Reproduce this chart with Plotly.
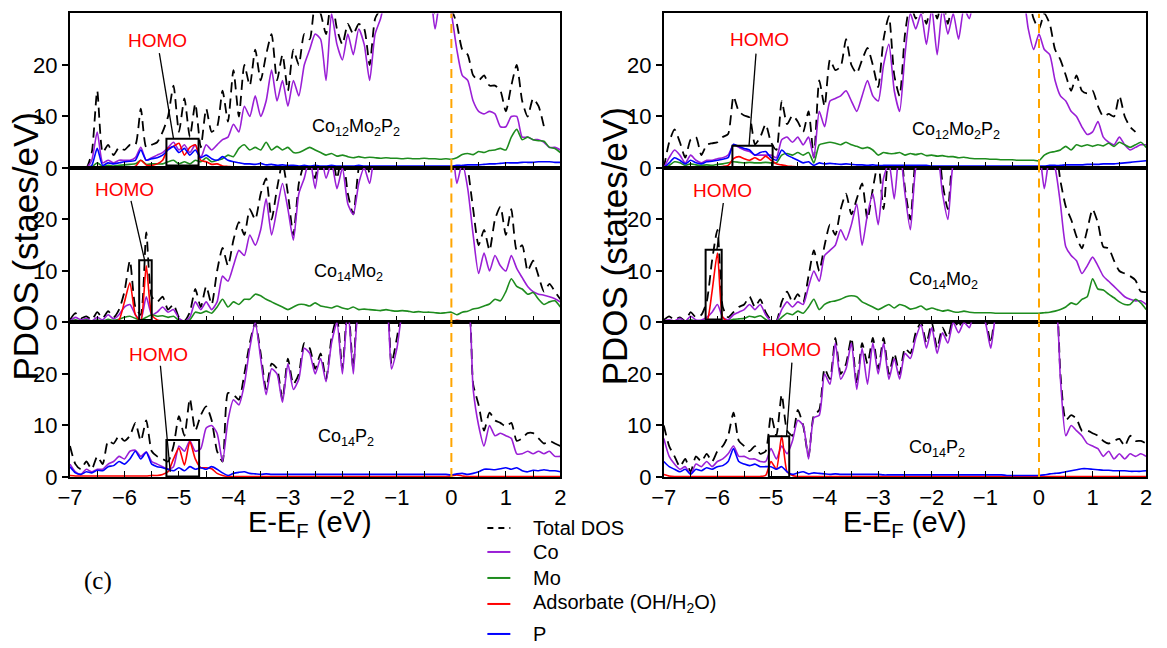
import plotly.graph_objects as go

# Energy grid (eV), step 0.1 from -7 to 2
E = [round(-7 + 0.1 * i, 1) for i in range(91)]

# ---------------- Left column ----------------
# Panel 1: Co12Mo2P2
L1_total = [0, 0, 0, 0, 3, 15, 3, 4.5, 2.5, 4,
            3.5, 4.5, 4.5, 11.5, 4, 4.5, 5, 7, 10, 16,
            7, 13.5, 6, 12.5, 4, 11.5, 7, 8, 15, 9,
            19, 10, 20, 16, 23, 17, 22, 26, 17, 22,
            15, 23, 20, 26, 25, 32, 30, 26, 33, 27,
            24, 28, 26, 28, 27, 20, 29, 31, 35, 35,
            35, 35, 35, 35, 35, 35, 35, 30, 35, 35,
            31, 28, 23, 22, 18, 17, 18, 16, 16, 15,
            11, 16, 20, 13, 10, 13.5, 12, 8, None, None,
            None]
L1_co = [0, 0, 0, 0, 1.5, 7, 1, 1.5, 1, 1.5,
         1.5, 1.5, 2, 4, 1.5, 2, 2.5, 3, 4, 5,
         3.5, 4.5, 3, 4.5, 2, 4.5, 3.5, 4.5, 5.5, 6,
         8.5, 7, 12, 10, 14, 10, 13, 19, 13, 17,
         12, 17, 14, 20, 23, 26, 25, 17, 30, 24,
         21, 26, 22, 27, 24, 17, 26, 29, 33, 34,
         34, 34, 34, 34, 34, 34, 34, 27, 33, 34,
         30, 23, 18, 17, 13, 11, 10.5, 11, 10.5, 8,
         8, 10, 10, 6, 6, 5.5, 5.5, 5, 4, 4,
         3.5]
L1_mo = [0, 0, 0, 0, 0.2, 1, 0.3, 0.5, 0.4, 0.5,
         0.6, 0.7, 0.8, 1.5, 0.7, 0.8, 0.8, 0.8, 1.2, 1.5,
         0.8, 1.2, 0.8, 1.5, 1.2, 2, 1.2, 1.5, 1.8, 2.5,
         2.2, 3.8, 4.5, 3.5, 4, 3.5, 5, 3.5, 4.2, 3.5,
         4, 3, 3, 3.5, 4, 3.5, 3, 2.5, 2.8, 2.3,
         2.5, 2.2, 2.0, 2.2, 2.0, 2.1, 2.0, 1.9, 2.0, 1.9,
         1.9, 1.8, 1.9, 1.8, 1.8, 1.9, 1.8, 1.8, 1.7, 1.8,
         1.7, 2, 2.6, 2.8, 2.6, 3.2, 3.0, 3.4, 3.5, 3.8,
         3.5, 6, 7.5, 5.5, 6, 5.5, 5.3, 5.2, 4, 3.8,
         3]
L1_ads = [0, 0, 0, 0, 0, 0.3, 0.2, 0.2, 0.2, 0.2,
          0.2, 0.2, 0.3, 1.5, 0.6, 0.5, 0.8, 1.5, 3.8, 4.2,
          4.8, 2.5, 4.0, 4.5, 1.5, 1.2, 0.7, 0.8, 0.4, 0.3,
          0.2, 0.2, 0.2, 0.2, 0.2, 0.2, 0.2, 0.2, 0.2, 0.2,
          0.2, 0.2, 0.2, 0.2, 0.2, 0.2, 0.2, 0.2, 0.2, 0.2,
          0.15, 0.15, 0.15, 0.15, 0.15, 0.15, 0.15, 0.15, 0.15, 0.15,
          0.15, 0.15, 0.15, 0.15, 0.15, 0.15, 0.15, 0.15, 0.15, 0.15,
          0.2, 0.3, 0.3, 0.25, 0.2, 0.2, 0.2, 0.2, 0.2, 0.2,
          0.2, 0.2, 0.2, 0.2, 0.2, 0.2, 0.2, 0.2, 0.2, 0.2,
          0.2]
L1_p = [0, 0, 0, 0, 0.5, 3.8, 0.5, 1, 0.8, 1,
        1.2, 1.3, 1.5, 3.5, 1.5, 1.8, 2, 2.5, 3.5, 4.2,
        3.0, 3.8, 2.5, 3.5, 2, 2.5, 1.8, 1.5, 2.2, 1.5,
        1.2, 1.0, 0.8, 0.8, 0.7, 0.9, 0.6, 0.7, 0.5, 0.6,
        0.5, 0.5, 0.4, 0.5, 0.4, 0.5, 0.4, 0.4, 0.5, 0.4,
        0.4, 0.4, 0.4, 0.5, 0.4, 0.4, 0.4, 0.4, 0.4, 0.4,
        0.4, 0.4, 0.4, 0.4, 0.4, 0.4, 0.4, 0.4, 0.4, 0.4,
        0.4, 0.5, 0.5, 0.6, 0.6, 0.6, 0.7, 0.8, 0.8, 0.9,
        1.0, 1.0, 1.0, 1.1, 1.1, 1.1, 1.2, 1.2, 1.2, 1.1,
        1.1]

# Panel 2: Co14Mo2
L2_total = [0.5, 1.8, 0.8, 1.2, 0.5, 2, 0.8, 2.2, 1, 2.5,
            6, 12, 3, 1.5, 17.5, 5, 4, 5, 2.5, 3.5,
            1, 0.3, 2, 6.5, 3, 7, 3.5, 10, 14.5, 11,
            16, 19.5, 17, 22, 20, 25, 28, 20, 26, 31,
            25, 17, 27, 31, 33, 28, 35, 30, 33, 28,
            33, 25, 21, 30, 33, 29, 35, 35, 35, 35,
            35, 35, 35, 35, 35, 35, 35, 35, 35, 35,
            35, 33, 35, 30, 22, 15, 18, 14, 20, 22.5,
            17, 22, 14, 15, 10, 12, 9, 6, 7.5, 6,
            4.5]
L2_co = [0.3, 1, 0.5, 0.8, 0.3, 1, 0.5, 1.5, 0.7, 1.5,
         3, 3.5, 1.5, 0.5, 5, 1.5, 2, 3, 2, 2.5,
         0.8, 0.2, 1, 4, 2.5, 4, 2.5, 4, 9, 8,
         11, 14, 13, 17, 15, 18, 24, 17, 22, 27,
         22, 16, 25, 28, 32, 26, 33, 28, 31, 26,
         30, 23, 21, 27, 30, 27, 33, 34, 34, 34,
         34, 34, 34, 34, 34, 34, 34, 34, 34, 34,
         34, 27, 31, 26, 17, 9.5, 13.5, 10, 13, 11,
         10, 13, 10.5, 8.7, 7, 6, 5.5, 5.3, 5, 4.6,
         4]
L2_mo = [0.2, 0.5, 0.3, 0.5, 0.2, 0.5, 0.3, 0.6, 0.4, 0.6,
         1, 1.2, 0.8, 0.5, 1, 1.5, 1.2, 1.3, 1, 1.2,
         0.4, 0.1, 0.5, 2, 1.8, 2.2, 1.8, 3, 4.5, 3,
         4, 3.5, 4.5, 4.5, 5.5, 5.2, 4.5, 4, 3.5, 3,
         2.5, 3, 3.5, 3.5, 3.2, 3.8, 3.2, 3, 2.8, 3.2,
         2.8, 2.6, 3, 2.5, 2.6, 2.5, 2.4, 2.3, 2.5, 2.3,
         2.2, 2.3, 2.2, 2.0, 2.1, 2.0, 2.0, 1.9, 1.8, 1.9,
         2.0, 1.5, 2.0, 2.2, 2.6, 2.8, 3.2, 3.6, 4.5, 4.2,
         6, 8.5, 7, 6.5, 5.5, 5.8, 4.5, 3.5, 4, 4.2,
         3]
L2_ads = [0.1, 0.1, 0.1, 0.1, 0.1, 0.1, 0.1, 0.1, 0.1, 0.5,
          4, 7.7, 1.5, 0.3, 11, 1.5, 0.5, 0.3, 0.2, 0.2,
          0.1, 0.1, 0.1, 0.1, 0.1, 0.1, 0.1, 0.1, 0.1, 0.1,
          0.1, 0.1, 0.1, 0.1, 0.1, 0.1, 0.1, 0.1, 0.1, 0.1,
          0.1, 0.1, 0.1, 0.1, 0.1, 0.1, 0.1, 0.1, 0.1, 0.1,
          0.1, 0.1, 0.1, 0.1, 0.1, 0.1, 0.1, 0.1, 0.1, 0.1,
          0.1, 0.1, 0.1, 0.1, 0.1, 0.1, 0.1, 0.1, 0.1, 0.1,
          0.2, 0.4, 0.3, 0.2, 0.1, 0.1, 0.1, 0.1, 0.1, 0.1,
          0.1, 0.1, 0.1, 0.1, 0.1, 0.1, 0.1, 0.1, 0.1, 0.1,
          0.1]

# Panel 3: Co14P2
L3_total = [6, 2.5, 1.5, 3, 1.5, 4, 2.5, 7, 6.5, 8,
            7, 8, 10.5, 7, 11, 5, 4, 3.5, 3, 6,
            11.8, 8, 15.2, 9, 12, 13.7, 11, 5, 3, 16.3,
            16, 15, 20, 26, 30, 24, 17, 22, 21, 15,
            23, 18, 20, 26, 25, 21, 24, 19, 27, 31,
            21, 34, 21, 33, 33, 35, 33, 35, 35, 22,
            27, 33, 35, 35, 35, 35, 35, 35, 35, 35,
            35, 35, 35, 35, 18, 14, 9, 12.5, 11, 10.5,
            9.8, 10.5, 7, 7.5, 8.5, 8.5, 7.5, 6.5, 7, 6.5,
            6]
L3_co = [2.5, 1, 0.5, 1.5, 1, 1.5, 1.5, 2.5, 3, 4,
         3.5, 5, 5.2, 4, 4.9, 3, 2.5, 2, 1.5, 2,
         6, 5, 7, 5, 5.5, 9.5, 10, 8.5, 3, 11,
         15, 14, 18, 25, 30, 23, 16, 21, 20, 14.5,
         22, 17, 19, 25, 24, 20, 23, 18.5, 26, 30,
         20, 33, 20, 32, 32, 34, 32, 34, 34, 21,
         25, 32, 34, 34, 34, 34, 34, 34, 34, 34,
         34, 34, 34, 34, 17, 10, 6, 10, 8, 8.5,
         8, 7.5, 4.5, 4.5, 5, 4.5, 5, 4.5, 5, 4,
         4]
L3_ads = [0.3, 0.2, 0.2, 0.2, 0.2, 0.2, 0.2, 0.2, 0.2, 0.2,
          0.2, 0.2, 0.2, 0.2, 0.2, 0.3, 0.3, 0.5, 1, 3.5,
          5.6, 2.3, 6.9, 3.5, 1.8, 1.8, 1.6, 0.7, 0.3, 0.1,
          0.1, 0.1, 0.1, 0.1, 0.1, 0.1, 0.1, 0.1, 0.1, 0.1,
          0.1, 0.1, 0.1, 0.1, 0.1, 0.1, 0.1, 0.1, 0.1, 0.1,
          0.1, 0.1, 0.1, 0.1, 0.1, 0.1, 0.1, 0.1, 0.1, 0.1,
          0.1, 0.1, 0.1, 0.1, 0.1, 0.1, 0.1, 0.1, 0.1, 0.1,
          0.2, 0.4, 0.2, 0.1, 0.1, 0.1, 0.1, 0.1, 0.1, 0.1,
          0.1, 0.1, 0.1, 0.1, 0.1, 0.1, 0.1, 0.1, 0.1, 0.1,
          0.1]
L3_p = [2, 0.8, 0.5, 1, 0.8, 1.3, 1.2, 2, 2.2, 3,
        2.5, 3.5, 5, 3.5, 4.8, 2.5, 2, 1.8, 1.5, 1.2,
        1.8, 1.2, 2, 1.5, 1.8, 1.5, 2, 1.5, 0.8, 0.3,
        0.7, 0.9, 1, 0.7, 0.6, 0.5, 0.6, 0.5, 0.5, 0.5,
        0.5, 0.5, 0.5, 0.5, 0.5, 0.5, 0.5, 0.5, 0.5, 0.5,
        0.5, 0.5, 0.5, 0.5, 0.5, 0.5, 0.5, 0.5, 0.5, 0.5,
        0.5, 0.5, 0.5, 0.5, 0.5, 0.5, 0.5, 0.5, 0.5, 0.5,
        0.4, 0.6, 0.7, 0.5, 0.7, 1.0, 1.5, 1.5, 1.4, 1.6,
        1.8, 1.5, 1.8, 1.2, 1.0, 1.3, 1.2, 1.4, 1.2, 1.2,
        1.0]

# ---------------- Right column ----------------
R1_total = [0, 5, 7.5, 5, 2, 5.5, 6, 2.5, 4.5, 4.8,
            5, 6, 6.6, 13.9, 11, 10.2, 9.8, 4.6, 6, 8.5,
            5, 3.5, 13, 8.5, 10.2, 9, 7, 11, 2, 17,
            12, 21, 19, 19.7, 25, 20, 18.4, 21, 23.3, 20,
            15.7, 25, 29.5, 18, 14, 26, 32, 29, 31, 28,
            33, 29, 33, 28, 33, 30, 35, 35, 35, 35,
            35, 35, 35, 35, 35, 35, 35, 35, 33, 29,
            27, 30, 28, 23, 21, 18, 15, 18, 15, 14.5,
            15, 12, 10, 10.5, 10, 14, 10, 8, 7, None,
            None]
R1_co = [0, 2, 3.5, 2.5, 1, 2.5, 1.5, 1, 1.5, 1.5,
         1.8, 2, 2.5, 4.5, 4, 3.5, 3.2, 2.5, 2.5, 2.5,
         2.5, 2, 5.5, 6, 5, 6, 4.5, 6, 2, 11,
         8, 13, 13.5, 14, 15, 13, 11, 14, 17, 14,
         13, 20, 24, 15, 11, 22, 30, 27, 30, 24,
         31, 22, 31, 26, 30, 25, 31, 29, 33, 33,
         33, 33, 33, 33, 33, 33, 33, 33, 27, 23,
         26, 23, 22, 17, 14, 13, 11, 10, 8, 6.5,
         7, 9, 6, 5, 4.5, 6, 4.5, 3.5, 4, 4.5,
         4.5]
R1_mo = [0, 0.5, 1.2, 1, 0.5, 0.8, 0.6, 0.5, 0.6, 0.5,
         0.7, 0.8, 1, 1.2, 1.1, 1, 1.1, 1, 1, 1.1,
         1, 1, 2.5, 2.8, 2.5, 3, 2.5, 3, 1, 4.5,
         4.8, 5, 4.8, 4.5, 5, 4.5, 4.2, 3.8, 4, 3.5,
         2.5, 3, 2.8, 2.8, 3, 2.5, 2.8, 2.6, 2.8, 2.4,
         2.5, 2.3, 2.4, 2.2, 2.2, 2.0, 2.1, 1.9, 1.8, 1.8,
         1.8, 1.7, 1.7, 1.6, 1.6, 1.6, 1.5, 1.5, 1.5, 1.5,
         1.4, 2.5, 3, 3.2, 3.5, 4.2, 3.5, 4.5, 4.2, 4.5,
         4.2, 4.5, 4.3, 4.8, 4.2, 5, 4.5, 4, 4.5, 5,
         4]
R1_ads = [0, 0.2, 0.2, 0.2, 0.2, 0.2, 0.2, 0.2, 0.2, 0.2,
          0.2, 0.3, 0.5, 1.8, 2.2, 1.8, 1.5, 2.0, 1.5, 2.3,
          1.5, 0.8, 0.6, 0.4, 0.3, 0.2, 0.2, 0.2, 0.2, 0.2,
          0.2, 0.2, 0.2, 0.2, 0.2, 0.2, 0.2, 0.2, 0.2, 0.2,
          0.2, 0.2, 0.2, 0.2, 0.2, 0.2, 0.2, 0.2, 0.2, 0.2,
          0.2, 0.2, 0.2, 0.2, 0.2, 0.2, 0.2, 0.2, 0.2, 0.2,
          0.2, 0.2, 0.2, 0.2, 0.2, 0.2, 0.2, 0.2, 0.2, 0.2,
          0.2, 0.2, 0.2, 0.2, 0.2, 0.2, 0.2, 0.2, 0.2, 0.2,
          0.2, 0.2, 0.2, 0.2, 0.2, 0.2, 0.2, 0.2, 0.2, 0.2,
          0.2]
R1_p = [0, 1, 2, 1.5, 0.8, 1.5, 1, 0.8, 1.2, 1.3,
        1.5, 1.7, 2, 4.6, 4.2, 3.8, 3.5, 2.5, 3, 3.2,
        2, 1.5, 3.5, 2.5, 2, 1.5, 1.0, 1.2, 0.5, 1.0,
        0.8, 0.9, 0.8, 0.7, 0.8, 0.7, 0.6, 0.6, 0.5, 0.6,
        0.5, 0.5, 0.5, 0.5, 0.5, 0.5, 0.5, 0.5, 0.5, 0.5,
        0.4, 0.4, 0.4, 0.4, 0.4, 0.4, 0.4, 0.4, 0.4, 0.4,
        0.4, 0.4, 0.4, 0.4, 0.4, 0.4, 0.4, 0.4, 0.4, 0.4,
        0.4, 0.4, 0.5, 0.5, 0.5, 0.6, 0.6, 0.6, 0.6, 0.7,
        0.7, 0.7, 0.8, 0.8, 0.8, 0.9, 1.0, 1.1, 1.2, 1.3,
        1.4]

R2_total = [0.5, 1.2, 0.5, 1, 0.3, 2, 1, 1.5, 4, 12,
            18, 3, 1, 2, 3, 3.5, 5, 3, 4.5, 2,
            0.5, 0.3, 4, 6, 4, 5.5, 4, 9, 14, 10,
            15, 19, 17, 22, 25, 21, 24, 27, 20, 26,
            31, 22, 33, 30, 35, 26, 20, 32, 35, 35,
            35, 35, 27, 22, 33, 35, 35, 35, 35, 35,
            35, 35, 35, 35, 35, 35, 35, 35, 35, 35,
            35, 33, 35, 34, 27.5, 22.5, 20, 16.7, 14.4, 18,
            22, 19.3, 14.7, 14.4, 12, 10, 9.5, 9, 8.2, 6,
            5.9]
R2_co = [0.3, 0.5, 0.3, 0.8, 0.2, 1.2, 0.5, 0.5, 1, 2,
         3.5, 1, 0.5, 1.5, 2, 2.5, 3.5, 2.5, 3.5, 1.5,
         0.3, 0.2, 2.5, 4, 3, 4, 3.5, 7, 10, 8,
         13, 14, 15, 18, 16, 19, 23, 15, 21, 25,
         19, 28, 31, 24, 34, 25, 18, 30, 33, 33,
         31, 33, 25, 20, 31, 33, 34, 34, 34, 34,
         34, 34, 34, 34, 34, 34, 34, 34, 34, 34,
         33, 26, 32, 30, 23, 14.7, 13, 12, 9.5, 11,
         12.7, 11, 9, 8, 7, 6, 5, 4.5, 4.2, 4.2,
         3.5]
R2_mo = [0.2, 0.3, 0.2, 0.4, 0.2, 0.5, 0.3, 0.3, 0.4, 0.5,
         0.5, 0.4, 0.3, 0.6, 0.7, 0.8, 1.2, 1, 1.3, 0.6,
         0.1, 0.1, 1, 1.8, 1.5, 2.2, 1.8, 3, 4.5, 2.5,
         3.5, 4, 4.2, 4.5, 5, 5.2, 5, 4, 3.5, 3,
         2.5, 3, 3.5, 2.8, 3.5, 3.2, 2.6, 2.8, 3.2, 2.5,
         2.8, 2.5, 2.2, 2.4, 2.1, 2.0, 2.2, 2.0, 1.9, 1.9,
         1.9, 1.9, 1.8, 1.8, 1.8, 1.8, 1.8, 1.8, 1.8, 1.8,
         1.8, 1.9, 2.0, 2.2, 2.5, 3, 3.8, 3.5, 4.5, 5,
         8.5, 6.5, 6.3, 5.5, 4.8, 4.0, 3.5, 3.5, 4.5, 3.8,
         2.5]
R2_ads = [0, 0, 0, 0, 0, 0, 0, 0, 0.1, 6,
          13.5, 1, 0.2, 0.1, 0.1, 0.1, 0.1, 0.1, 0.1, 0.1,
          0.1, 0.1, 0.1, 0.1, 0.1, 0.1, 0.1, 0.1, 0.1, 0.1,
          0.1, 0.1, 0.1, 0.1, 0.1, 0.1, 0.1, 0.1, 0.1, 0.1,
          0.1, 0.1, 0.1, 0.1, 0.1, 0.1, 0.1, 0.1, 0.1, 0.1,
          0.1, 0.1, 0.1, 0.1, 0.1, 0.1, 0.1, 0.1, 0.1, 0.1,
          0.1, 0.1, 0.1, 0.1, 0.1, 0.1, 0.1, 0.1, 0.1, 0.1,
          0.1, 0.3, 0.3, 0.3, 0.1, 0.1, 0.1, 0.1, 0.1, 0.1,
          0.1, 0.1, 0.1, 0.1, 0.1, 0.1, 0.1, 0.1, 0.1, 0.1,
          0.1]

R3_total = [10, 6, 4, 2, 3.5, 1, 4, 3, 4.5, 3,
            5, 6, 8, 12.5, 7, 6, 5, 6, 4.5, 5,
            12, 8, 16, 9, 8, 13, 10, 4, 12, 13,
            21, 19, 27, 20, 22, 27, 18, 26, 22, 27,
            21, 27, 20, 24, 20, 25, 24, 28, 30, 26,
            30, 25, 29, 27, 31, 29, 31, 30, 33, 33,
            31, 26, 33, 35, 35, 35, 35, 35, 35, 35,
            35, 35, 35, 35, 20, 11, 12, 11.3, 9, 9,
            8.5, 8, 7, 6.5, 7, 7.4, 6, 8, 7, 7,
            6.5]
R3_co = [7.5, 4, 2.5, 1.5, 2, 0.5, 2.5, 2, 3, 2,
         3, 3.5, 4.5, 6, 4, 4, 3.5, 3.5, 3, 3,
         5.5, 3.5, 6, 4.5, 7, 11, 10, 3.5, 11.5, 12,
         20, 18, 26, 19, 21, 26, 17, 25, 18, 26,
         20, 26, 19, 23, 19, 24, 23, 27, 29.5, 25,
         29, 24, 28, 26, 30, 28, 30, 29, 32, 32,
         30, 25, 32, 34, 34, 34, 34, 34, 34, 34,
         34, 34, 34, 34, 19, 8, 10, 9, 8, 6.5,
         6, 5.5, 4, 5, 3.5, 4.5, 3.5, 4.5, 4, 4.5,
         4]
R3_ads = [0.5, 0.2, 0.1, 0.1, 0.1, 0.1, 0.1, 0.1, 0.1, 0.1,
          0.1, 0.1, 0.1, 0.1, 0.1, 0.1, 0.1, 0.1, 0.1, 0.3,
          3, 1.5, 8, 1, 0.3, 0.1, 0.1, 0.1, 0.1, 0.1,
          0.1, 0.1, 0.1, 0.1, 0.1, 0.1, 0.1, 0.1, 0.1, 0.1,
          0.1, 0.1, 0.1, 0.1, 0.1, 0.1, 0.1, 0.1, 0.1, 0.1,
          0.1, 0.1, 0.1, 0.1, 0.1, 0.1, 0.1, 0.1, 0.1, 0.1,
          0.1, 0.1, 0.1, 0.1, 0.1, 0.1, 0.1, 0.1, 0.1, 0.1,
          0.1, 0.1, 0.1, 0.1, 0.1, 0.1, 0.1, 0.1, 0.1, 0.1,
          0.1, 0.1, 0.1, 0.1, 0.1, 0.1, 0.1, 0.1, 0.1, 0.1,
          0.1]
R3_p = [3, 2, 1.5, 1.0, 1.5, 0.5, 1.5, 1.2, 1.8, 1.5,
        2, 2.2, 3, 5.5, 3, 2.5, 2.2, 2.5, 2, 2,
        2, 1.5, 2, 1, 0.5, 0.8, 1.0, 0.6, 0.8, 0.7,
        0.6, 0.5, 0.6, 0.5, 0.5, 0.5, 0.5, 0.5, 0.5, 0.5,
        0.5, 0.4, 0.4, 0.4, 0.4, 0.4, 0.4, 0.4, 0.4, 0.4,
        0.4, 0.4, 0.4, 0.4, 0.4, 0.4, 0.4, 0.4, 0.4, 0.4,
        0.4, 0.4, 0.4, 0.4, 0.3, 0.3, 0.3, 0.3, 0.3, 0.3,
        0.3, 0.4, 0.6, 0.7, 0.8, 1.0, 1.2, 1.4, 1.6, 1.6,
        1.5, 1.4, 1.3, 1.3, 1.2, 1.2, 1.2, 1.1, 1.1, 1.1,
        1.2]

# Labels / annotations
SERIES_NAMES = ["Total DOS", "Co", "Mo", "Adsorbate (OH/H<sub>2</sub>O)", "P"]
PANEL_LABELS = ["Co<sub>12</sub>Mo<sub>2</sub>P<sub>2</sub>", "Co<sub>14</sub>Mo<sub>2</sub>",
                "Co<sub>14</sub>P<sub>2</sub>"]
X_TICKS = [-7, -6, -5, -4, -3, -2, -1, 0, 1, 2]
Y_TICKS = [0, 10, 20]

panels = {
    1: {"Total DOS": L1_total, "Co": L1_co, "Mo": L1_mo, "Ads": L1_ads, "P": L1_p},
    2: {"Total DOS": L2_total, "Co": L2_co, "Mo": L2_mo, "Ads": L2_ads},
    3: {"Total DOS": L3_total, "Co": L3_co, "Ads": L3_ads, "P": L3_p},
    4: {"Total DOS": R1_total, "Co": R1_co, "Mo": R1_mo, "Ads": R1_ads, "P": R1_p},
    5: {"Total DOS": R2_total, "Co": R2_co, "Mo": R2_mo, "Ads": R2_ads},
    6: {"Total DOS": R3_total, "Co": R3_co, "Ads": R3_ads, "P": R3_p},
}
for k, d in panels.items():
    for n, v in d.items():
        assert len(v) == len(E), (k, n, len(v))

label_pos = {1: (-1.75, 7.8), 2: (-1.89, 9.7), 3: (-1.94, 7.6),
             4: (-1.55, 7.2), 5: (-1.79, 8.2), 6: (-1.9, 5.5)}
homo_text = {1: (-5.40, 24.8), 2: (-6.00, 25.9), 3: (-5.38, 23.8),
             4: (-5.21, 25.0), 5: (-5.90, 25.6), 6: (-4.61, 24.7)}
homo_line = {1: (-5.36, 22.3, -5.10, 5.7), 2: (-5.88, 23.6, -5.63, 12.1),
             3: (-5.34, 21.6, -5.16, 1.0), 4: (-5.28, 22.2, -5.41, 4.3),
             5: (-5.89, 23.2, -6.01, 14.1), 6: (-4.61, 22.2, -4.71, 7.9)}
homo_box = {1: (-5.23, 0.5, -4.64, 5.7), 2: (-5.73, 0.5, -5.50, 12.1),
            3: (-5.23, 0.1, -4.63, 7.2), 4: (-5.72, 0.2, -4.97, 4.3),
            5: (-6.22, 0.6, -5.92, 14.1), 6: (-5.04, 0.0, -4.66, 7.9)}

W, H = 1167, 648
FONT = "Liberation Sans"
colors = {"Total DOS": "black", "Co": "#9A1FD6", "Mo": "#1E8C1E", "Ads": "#FF0000", "P": "#0000FF"}
legend_names = {"Total DOS": SERIES_NAMES[0], "Co": SERIES_NAMES[1], "Mo": SERIES_NAMES[2],
                "Ads": SERIES_NAMES[3], "P": SERIES_NAMES[4]}
TOTAL_DASH = "10px,6px"

# the photographed page comes out slightly shrunk; map target pixels to paper coords
SX, OX, SY = 0.984, 12.5, 0.98


def PX(x):
    return ((x - OX) / SX) / W


def PY(y):
    return 1 - (y / SY) / H


col_px = {0: (69.5, 560), 1: (663.5, 1146)}
row_px = [(13.5, 168), (168, 322.5), (322.5, 477)]

fig = go.Figure()
layout = {}
for k in range(1, 7):
    col = 0 if k <= 3 else 1
    row = (k - 1) % 3
    x0, x1 = col_px[col]
    y0, y1 = row_px[row]
    xs = "" if k == 1 else str(k)
    layout["xaxis" + xs] = dict(
        domain=[PX(x0), PX(x1)], range=[-7, 2], anchor="y" + xs,
        showline=True, mirror=True, linewidth=2, linecolor="black",
        ticks="inside", ticklen=6, tickwidth=1.2, tickcolor="black",
        tickvals=X_TICKS, showticklabels=(row == 2), showgrid=False, zeroline=False,
        minor=dict(tickvals=[v + 0.5 for v in X_TICKS[:-1]], ticks="inside", ticklen=6,
                   tickwidth=1.2, tickcolor="black", showgrid=False),
        tickfont=dict(family=FONT, size=22, color="black"))
    layout["yaxis" + xs] = dict(
        domain=[PY(y1), PY(y0)], range=[0, 30], anchor="x" + xs,
        showline=True, mirror=True, linewidth=2, linecolor="black",
        ticks="outside", ticklen=6, tickwidth=1.5, tickcolor="black",
        tickvals=Y_TICKS, showgrid=False, zeroline=False,
        tickfont=dict(family=FONT, size=22, color="black"))

    for name in ["Total DOS", "Co", "Mo", "Ads", "P"]:
        if name not in panels[k]:
            continue
        is_total = name == "Total DOS"
        fig.add_trace(go.Scatter(
            x=E, y=panels[k][name], mode="lines", xaxis="x" + xs, yaxis="y" + xs,
            name=legend_names[name], showlegend=False,
            line=dict(color=colors[name], width=1.8 if is_total else 1.6,
                      dash=TOTAL_DASH if is_total else "solid", shape="spline", smoothing=0.6),
            connectgaps=False))

shapes = []
annotations = []
for k in range(1, 7):
    xs = "" if k == 1 else str(k)
    xr, yr = "x" + xs, "y" + xs
    shapes.append(dict(type="line", xref=xr, yref=yr, x0=0, x1=0, y0=0, y1=30,
                       line=dict(color="#FFA500", width=2, dash="9px,6px")))
    bx0, by0, bx1, by1 = homo_box[k]
    shapes.append(dict(type="rect", xref=xr, yref=yr, x0=bx0, x1=bx1, y0=by0, y1=by1,
                       line=dict(color="black", width=2)))
    lx0, ly0, lx1, ly1 = homo_line[k]
    shapes.append(dict(type="line", xref=xr, yref=yr, x0=lx0, y0=ly0, x1=lx1, y1=ly1,
                       line=dict(color="black", width=1.3)))
    tx, ty = homo_text[k]
    annotations.append(dict(x=tx, y=ty, xref=xr, yref=yr, text="HOMO", showarrow=False,
                            xanchor="center", yanchor="middle",
                            font=dict(family=FONT, size=19, color="red")))
    px_, py_ = label_pos[k]
    annotations.append(dict(x=px_, y=py_, xref=xr, yref=yr, text=PANEL_LABELS[(k - 1) % 3],
                            showarrow=False, xanchor="center", yanchor="middle",
                            font=dict(family=FONT, size=18, color="black")))


def paper_text(x, y, text, size, angle=0, family=FONT, xanchor="center"):
    annotations.append(dict(x=PX(x), y=PY(y), xref="paper", yref="paper", text=text,
                            textangle=angle, showarrow=False, xanchor=xanchor, yanchor="middle",
                            font=dict(family=family, size=size, color="black")))


# axis titles
paper_text(25, 246, "PDOS (staes/eV)", 35, -90)
paper_text(615, 246, "PDOS (states/eV)", 35, -90)
paper_text(310, 524, "E-E<sub>F</sub> (eV)", 29)
paper_text(905, 524, "E-E<sub>F</sub> (eV)", 29)
paper_text(98, 581, "(c)", 25, family="Liberation Serif")

# legend (drawn manually to match the reference placement)
legend_rows = [("Total DOS", 528), ("Co", 552), ("Mo", 578), ("Ads", 604), ("P", 634)]
for name, ly in legend_rows:
    shapes.append(dict(type="line", xref="paper", yref="paper",
                       x0=PX(487), x1=PX(510), y0=PY(ly), y1=PY(ly),
                       line=dict(color=colors[name], width=2,
                                 dash="6px,5px" if name == "Total DOS" else "solid")))
    paper_text(531, ly, legend_names[name], 20, xanchor="left")

fig.update_layout(
    **layout,
    width=W, height=H,
    margin=dict(l=0, r=0, t=0, b=0),
    paper_bgcolor="white", plot_bgcolor="white",
    shapes=shapes, annotations=annotations,
    showlegend=False,
)

fig.write_html("out.html")
